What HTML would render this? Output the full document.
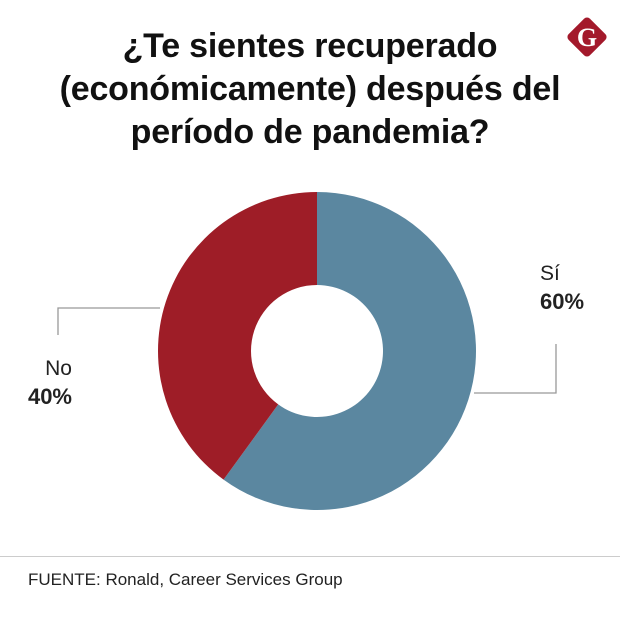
<!DOCTYPE html>
<html><head><meta charset="utf-8"><style>
body{margin:0;width:620px;height:624px;background:#fff;font-family:"Liberation Sans",sans-serif;overflow:hidden;position:relative}
#title{position:absolute;top:25px;left:0;width:620px;text-align:center;font-weight:bold;font-size:34px;line-height:43px;color:#111;letter-spacing:-0.2px}
.lbl{position:absolute;font-size:21px;color:#222;line-height:28px}
.lbl b{font-size:22px}
#foot{position:absolute;left:28px;top:570px;font-size:17px;color:#222}
#rule{position:absolute;left:0;top:556px;width:620px;height:1px;background:#ccc}
</style></head><body>
<div id="title">¿Te sientes recuperado<br>(económicamente) después del<br>período de pandemia?</div>
<svg width="620" height="624" style="position:absolute;left:0;top:0">
<g>
<rect x="572" y="22" width="30" height="30" rx="4" transform="rotate(45 587 37)" fill="#a3192b"/>
<text x="587" y="46" text-anchor="middle" font-family="Liberation Serif,serif" font-weight="bold" font-size="26" fill="#fff">G</text>
</g>
<g id="donut"></g>
<polyline points="58,335 58,308 160,308" fill="none" stroke="#999" stroke-width="1.3"/>
<polyline points="556,344 556,393 474,393" fill="none" stroke="#999" stroke-width="1.3"/>
</svg>
<div class="lbl" style="left:10px;top:355px;width:62px;text-align:right">No<br><b>40%</b></div>
<div class="lbl" style="left:540px;top:260px">Sí<br><b>60%</b></div>
<div id="rule"></div>
<div id="foot">FUENTE: Ronald, Career Services Group</div>
<script>
const categories=["Sí","No"];
const values=[60,40];
const colors=["#5b87a0","#9e1d27"];
const cx=317,cy=351,R=159,r=66;
const g=document.getElementById('donut');
const total=values.reduce((a,b)=>a+b,0);
let a0=0;
values.forEach((v,i)=>{
  const a1=a0+v/total*2*Math.PI;
  const p=(a,rad)=>[cx+rad*Math.sin(a),cy-rad*Math.cos(a)];
  const [x0,y0]=p(a0,R),[x1,y1]=p(a1,R),[x2,y2]=p(a1,r),[x3,y3]=p(a0,r);
  const lg=(a1-a0)>Math.PI?1:0;
  const path=document.createElementNS('http://www.w3.org/2000/svg','path');
  path.setAttribute('d',`M${x0},${y0}A${R},${R} 0 ${lg} 1 ${x1},${y1}L${x2},${y2}A${r},${r} 0 ${lg} 0 ${x3},${y3}Z`);
  path.setAttribute('fill',colors[i]);
  
  
  g.appendChild(path);
  a0=a1;
});
</script>
</body></html>
